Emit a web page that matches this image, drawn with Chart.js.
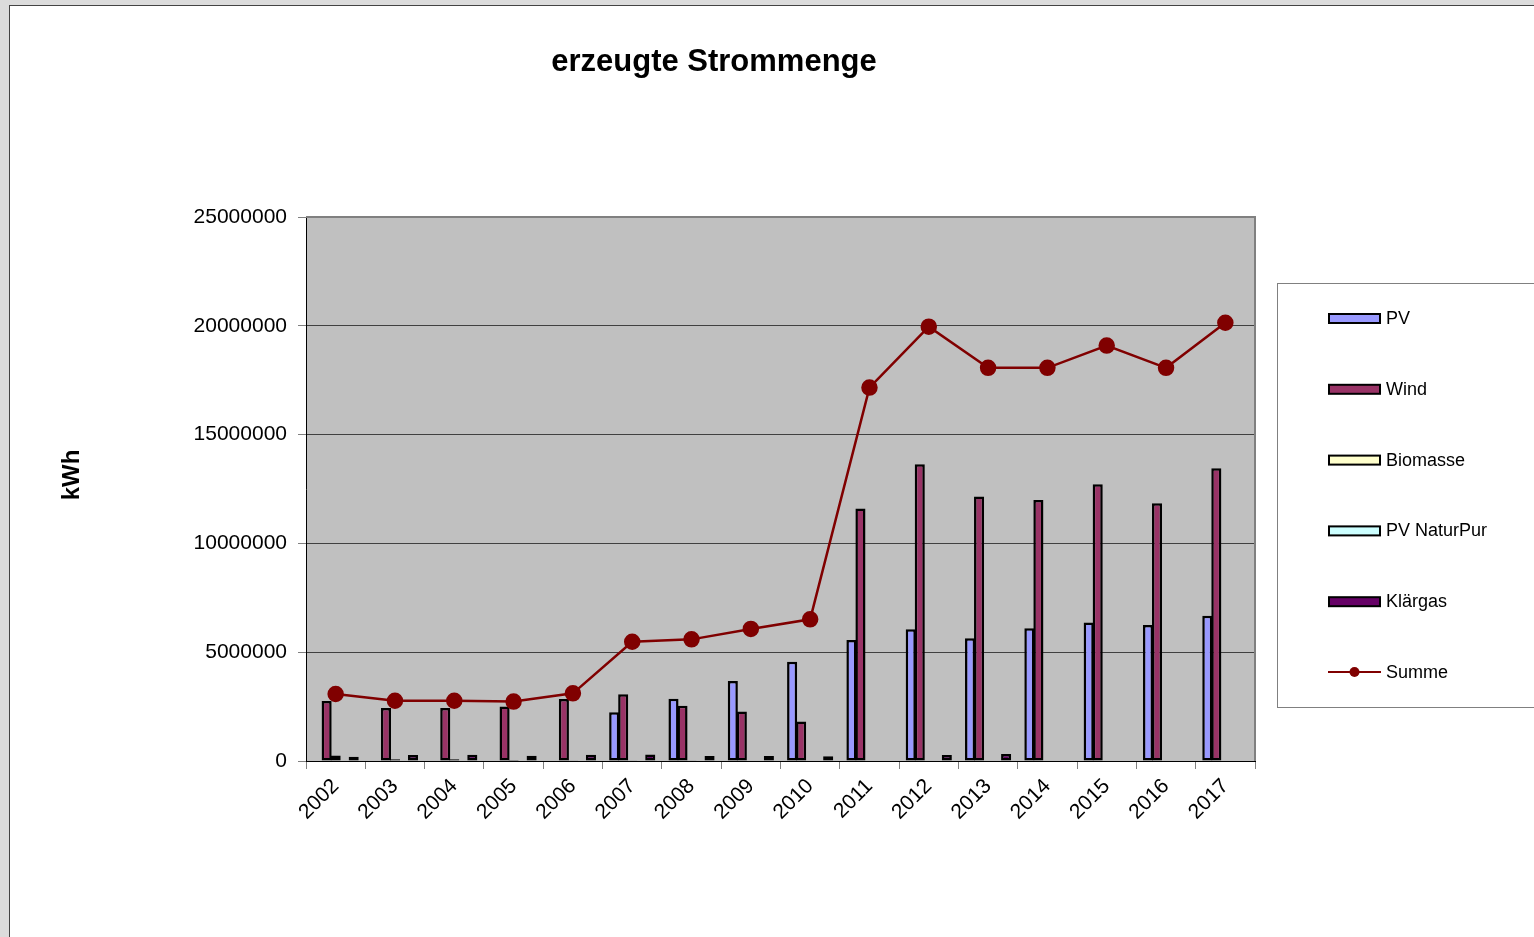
<!DOCTYPE html>
<html>
<head>
<meta charset="utf-8">
<script src="https://cdn.jsdelivr.net/npm/chart.js@4"></script>
<style>
  html, body { margin: 0; padding: 0; background: #dcdcdc; overflow: hidden; }
  #frame { position: absolute; left: 9px; top: 5px; width: 1600px; height: 1000px; background: #fff; border-left: 1px solid #444; border-top: 1px solid #444; }
  #chart { position: absolute; left: 0; top: 0; }
</style>
</head>
<body>
<div id="frame"></div>
<canvas id="chart" width="1534" height="937"></canvas>
<script>
var years = ['2002', '2003', '2004', '2005', '2006', '2007', '2008', '2009', '2010', '2011', '2012', '2013', '2014', '2015', '2016', '2017'];
// kWh
var pv        = [0, 0, 0, 0, 0, 2240000, 2860000, 3680000, 4560000, 5560000, 6050000, 5640000, 6100000, 6360000, 6250000, 6680000];
var wind      = [2760000, 2440000, 2440000, 2500000, 2850000, 3070000, 2540000, 2270000, 1810000, 11600000, 13640000, 12150000, 11990000, 12720000, 11840000, 13450000];
var biomasse  = [250000, 80000, 80000, 50000, 30000, 30000, 30000, 0, 0, 0, 0, 0, 0, 0, 0, 0];
var naturPur  = [0, 20000, 20000, 20000, 20000, 20000, 20000, 0, 0, 0, 0, 0, 0, 0, 0, 0];
var klaergas  = [200000, 270000, 290000, 240000, 290000, 300000, 230000, 230000, 220000, 0, 270000, 320000, 0, 0, 0, 0];
var summe     = [3080000, 2770000, 2770000, 2730000, 3110000, 5480000, 5590000, 6070000, 6510000, 17160000, 19960000, 18070000, 18070000, 19090000, 18070000, 20140000];
var yTicks    = [0, 5000000, 10000000, 15000000, 20000000, 25000000];

var fontFamily = '"Liberation Sans", Arial, sans-serif';
var lineColor = '#800000';

function barSet(label, data, color) {
  return {
    type: 'bar',
    label: label,
    data: data,
    backgroundColor: color,
    borderColor: '#000',
    borderWidth: 2.5,
    borderSkipped: false,
    categoryPercentage: 0.76,
    barPercentage: 1.12,
    order: 1
  };
}

var datasets = [
  barSet('PV', pv, '#9999FF'),
  barSet('Wind', wind, '#993366'),
  barSet('Biomasse', biomasse, '#FFFFCC'),
  barSet('PV NaturPur', naturPur, '#CCFFFF'),
  barSet('Klärgas', klaergas, '#660066'),
  {
    type: 'line',
    label: 'Summe',
    data: summe,
    borderColor: lineColor,
    backgroundColor: lineColor,
    borderWidth: 2.5,
    pointRadius: 7,
    pointHoverRadius: 7,
    pointBackgroundColor: lineColor,
    pointBorderColor: lineColor,
    tension: 0,
    fill: false,
    order: 0
  }
];

/* plot background, frame, title, axis title and legend */
var decorPlugin = {
  id: 'decor',
  beforeDraw: function(chart) {
    var a = chart.chartArea, c = chart.ctx;
    c.save();
    c.fillStyle = '#C0C0C0';
    c.fillRect(a.left, a.top, a.right - a.left, a.bottom - a.top);
    c.restore();
  },
  afterDraw: function(chart) {
    var a = chart.chartArea, c = chart.ctx;
    c.save();
    // gray frame on top and right
    c.strokeStyle = '#808080';
    c.lineWidth = 2;
    c.beginPath();
    c.moveTo(a.left, a.top);
    c.lineTo(a.right, a.top);
    c.lineTo(a.right, a.bottom);
    c.stroke();

    // title
    c.fillStyle = '#000';
    c.textAlign = 'center';
    c.textBaseline = 'middle';
    c.font = 'bold 31px ' + fontFamily;
    c.fillText('erzeugte Strommenge', 714, 62);

    // y axis title
    c.save();
    c.translate(72, 475);
    c.rotate(-Math.PI / 2);
    c.font = 'bold 24px ' + fontFamily;
    c.fillText('kWh', 0, 0);
    c.restore();

    // legend box
    c.strokeStyle = '#808080';
    c.lineWidth = 1;
    c.fillStyle = '#fff';
    c.fillRect(1277.5, 283.5, 300, 424);
    c.strokeRect(1277.5, 283.5, 300, 424);

    c.font = '18px ' + fontFamily;
    c.textAlign = 'left';
    chart.data.datasets.forEach(function(ds, i) {
      var y = 318 + i * 70.8;
      if (ds.type === 'line') {
        c.strokeStyle = ds.borderColor;
        c.lineWidth = 2;
        c.beginPath();
        c.moveTo(1328, y);
        c.lineTo(1381, y);
        c.stroke();
        c.fillStyle = ds.borderColor;
        c.beginPath();
        c.arc(1354.5, y, 5, 0, Math.PI * 2);
        c.fill();
      } else {
        c.fillStyle = ds.backgroundColor;
        c.fillRect(1329, y - 4, 51, 9);
        c.strokeStyle = '#000';
        c.lineWidth = 2;
        c.strokeRect(1329, y - 4, 51, 9);
      }
      c.fillStyle = '#000';
      c.fillText(ds.label, 1386, y + 1);
    });
    c.restore();
  }
};

new Chart(document.getElementById('chart'), {
  data: { labels: years, datasets: datasets },
  options: {
    responsive: false,
    animation: false,
    layout: { padding: { left: 0, right: 279, top: 217, bottom: 0 } },
    plugins: {
      legend: { display: false },
      title: { display: false },
      tooltip: { enabled: false }
    },
    scales: {
      x: {
        offset: true,
        grid: {
          offset: true,
          drawOnChartArea: false,
          color: '#808080',
          tickColor: '#808080',
          tickLength: 8
        },
        border: { color: '#000', width: 1 },
        ticks: {
          autoSkip: false,
          maxRotation: 45,
          minRotation: 45,
          padding: 5,
          color: '#000',
          font: { family: fontFamily, size: 21 }
        },
        afterFit: function(axis) { axis.height = 176; }
      },
      y: {
        min: 0,
        max: 25000000,
        afterBuildTicks: function(axis) {
          axis.ticks = yTicks.map(function(v) { return { value: v }; });
        },
        grid: {
          color: '#404040',
          tickColor: '#808080',
          tickLength: 8,
          lineWidth: 1
        },
        border: { color: '#000', width: 1 },
        ticks: {
          padding: 11,
          color: '#000',
          font: { family: fontFamily, size: 21 },
          callback: function(value) { return String(value); }
        },
        afterFit: function(axis) { axis.width = 306; }
      }
    }
  },
  plugins: [decorPlugin]
});
</script>
</body>
</html>
